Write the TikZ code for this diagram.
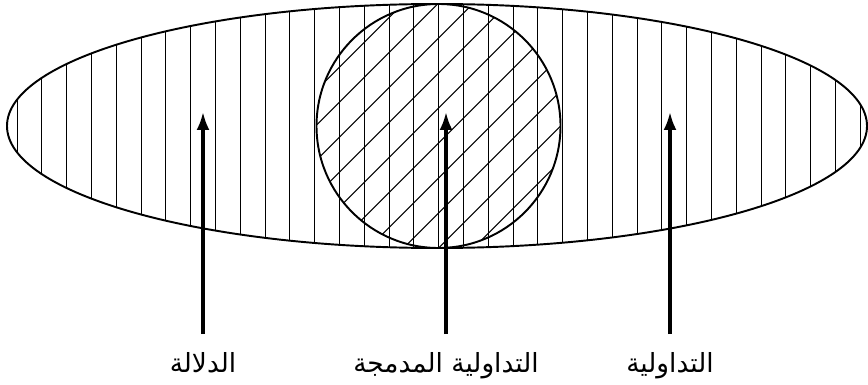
\documentclass[tikz,border=0pt]{standalone}
\usepackage{fontspec}
\usepackage{tikz}
\usetikzlibrary{arrows.meta}
\TeXXeTstate=1
\newfontfamily\arabicfont[Script=Arabic]{DejaVu Sans}

\begin{document}
\begin{tikzpicture}[x=0.02cm,y=-0.02cm,
    hatch/.style={line width=0.6pt},
    outline/.style={line width=1.1pt},
    pointer/.style={line width=1.8pt,-{Latex[length=0.36cm,width=0.26cm]}},
    arlabel/.style={font=\arabicfont\fontsize{15}{18}\selectfont,inner xsep=0pt,inner ysep=10pt}]
    \useasboundingbox (0,0) rectangle (868,385);
    \begin{scope}
        \clip (437,126) ellipse [x radius=430, y radius=122];
        \foreach \k in {-17,...,17}
            \draw[hatch] (438.7+24.8*\k,0) -- (438.7+24.8*\k,260);
    \end{scope}
    \begin{scope}
        \clip (438.5,126) circle [radius=122];
        \foreach \k in {-8,...,8}
            \draw[hatch] (455.5+35*\k-140,126+140) -- (455.5+35*\k+140,126-140);
    \end{scope}
    \draw[outline] (437,126) ellipse [x radius=430, y radius=122];
    \draw[outline] (438.5,126) circle [radius=122];

    \coordinate (tipA) at (203,112);
    \coordinate (tipB) at (446,112);
    \coordinate (tipC) at (670,112);
    \node[arlabel,anchor=base] (dalala) at (203,372) {\beginR الدلالة\endR};
    \node[arlabel,anchor=base] (mudmaja) at (446,372) {\beginR التداولية المدمجة\endR};
    \node[arlabel,anchor=base] (tadawul) at (670,372) {\beginR التداولية\endR};
    \draw[pointer] (dalala) -- (tipA);
    \draw[pointer] (mudmaja) -- (tipB);
    \draw[pointer] (tadawul) -- (tipC);
\end{tikzpicture}
\end{document}
